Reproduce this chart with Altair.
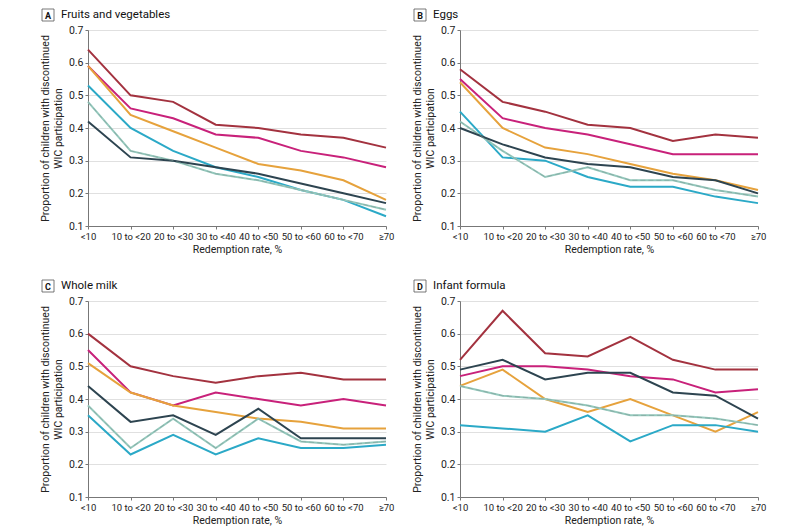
import altair as alt
import pandas as pd

categories = ["<10", "10 to <20", "20 to <30", "30 to <40", "40 to <50", "50 to <60", "60 to <70", "≥70"]
series = ["Child age, 3 y", "Child age, 2 y", "Child age, 1 y", "Infant, FBF", "Infant, PBF", "Infant, FFF"]
colors = ["#a3323f", "#c8217a", "#e6a23c", "#2ba9c7", "#95c9bd", "#2d4450"]

# Panel A: Fruits and vegetables
fv_3y = [0.64, 0.50, 0.48, 0.41, 0.40, 0.38, 0.37, 0.34]
fv_2y = [0.59, 0.46, 0.43, 0.38, 0.37, 0.33, 0.31, 0.28]
fv_1y = [0.59, 0.44, 0.39, 0.34, 0.29, 0.27, 0.24, 0.18]
fv_fbf = [0.53, 0.40, 0.33, 0.28, 0.25, 0.21, 0.18, 0.13]
fv_pbf = [0.48, 0.33, 0.30, 0.26, 0.24, 0.21, 0.18, 0.15]
fv_fff = [0.42, 0.31, 0.30, 0.28, 0.26, 0.23, 0.20, 0.17]

# Panel B: Eggs
eg_3y = [0.58, 0.48, 0.45, 0.41, 0.40, 0.36, 0.38, 0.37]
eg_2y = [0.55, 0.43, 0.40, 0.38, 0.35, 0.32, 0.32, 0.32]
eg_1y = [0.54, 0.40, 0.34, 0.32, 0.29, 0.26, 0.24, 0.21]
eg_fbf = [0.45, 0.31, 0.30, 0.25, 0.22, 0.22, 0.19, 0.17]
eg_pbf = [0.42, 0.33, 0.25, 0.28, 0.24, 0.24, 0.21, 0.19]
eg_fff = [0.40, 0.35, 0.31, 0.29, 0.28, 0.25, 0.24, 0.20]

# Panel C: Whole milk
wm_3y = [0.60, 0.50, 0.47, 0.45, 0.47, 0.48, 0.46, 0.46]
wm_2y = [0.55, 0.42, 0.38, 0.42, 0.40, 0.38, 0.40, 0.38]
wm_1y = [0.51, 0.42, 0.38, 0.36, 0.34, 0.33, 0.31, 0.31]
wm_fbf = [0.35, 0.23, 0.29, 0.23, 0.28, 0.25, 0.25, 0.26]
wm_pbf = [0.38, 0.25, 0.34, 0.25, 0.34, 0.27, 0.26, 0.27]
wm_fff = [0.44, 0.33, 0.35, 0.29, 0.37, 0.28, 0.28, 0.28]

# Panel D: Infant formula
if_3y = [0.52, 0.67, 0.54, 0.53, 0.59, 0.52, 0.49, 0.49]
if_2y = [0.47, 0.50, 0.50, 0.49, 0.47, 0.46, 0.42, 0.43]
if_1y = [0.44, 0.49, 0.40, 0.36, 0.40, 0.35, 0.30, 0.36]
if_fbf = [0.32, 0.31, 0.30, 0.35, 0.27, 0.32, 0.32, 0.30]
if_pbf = [0.44, 0.41, 0.40, 0.38, 0.35, 0.35, 0.34, 0.32]
if_fff = [0.49, 0.52, 0.46, 0.48, 0.48, 0.42, 0.41, 0.34]

y_ticks = [0.1, 0.2, 0.3, 0.4, 0.5, 0.6, 0.7]

panels = [
    ("A", "Fruits and vegetables", [fv_3y, fv_2y, fv_1y, fv_fbf, fv_pbf, fv_fff]),
    ("B", "Eggs", [eg_3y, eg_2y, eg_1y, eg_fbf, eg_pbf, eg_fff]),
    ("C", "Whole milk", [wm_3y, wm_2y, wm_1y, wm_fbf, wm_pbf, wm_fff]),
    ("D", "Infant formula", [if_3y, if_2y, if_1y, if_fbf, if_pbf, if_fff]),
]

FONT = "Roboto"
W, H = 298, 196

X_DEF = alt.X("rate:N", sort=categories,
              scale=alt.Scale(type="point", padding=0),
              axis=alt.Axis(title="Redemption rate, %", labelAngle=0,
                            labelOverlap=False, grid=False, tickSize=3,
                            labelFontSize=9.5, labelPadding=2, titlePadding=4))
Y_DEF = alt.Y("value:Q", scale=alt.Scale(domain=[0.1, 0.7], nice=False, zero=False),
              axis=alt.Axis(title=["Proportion of children with discontinued", "WIC participation"],
                            values=y_ticks, format=".1f", labelOverlap=False,
                            labelFontSize=10.5, tickSize=3, labelPadding=2, titlePadding=5))


def make_panel(letter, title, values, show_legend):
    rows = []
    for s_i, (name, vals) in enumerate(zip(series, values)):
        for cat, v in zip(categories, vals):
            rows.append({"rate": cat, "value": v, "series": name, "order": s_i})
    df = pd.DataFrame(rows)

    if show_legend:
        legend = alt.Legend(
            title=None, orient="none", legendX=W - 95, legendY=-5,
            symbolType="stroke", symbolStrokeWidth=2, symbolSize=700,
            labelFont=FONT, labelFontSize=10.5, labelColor="#222",
            strokeColor="#999", padding=5, rowPadding=2, fillColor="white",
            labelLimit=200, labelOffset=5,
        )
    else:
        legend = None

    lines = alt.Chart(df).mark_line(strokeWidth=2).encode(
        x=X_DEF,
        y=Y_DEF,
        color=alt.Color("series:N", sort=series,
                        scale=alt.Scale(domain=series, range=colors), legend=legend),
        detail="series:N",
        order=alt.Order("order:Q"),
    )
    pbf_overlay = alt.Chart(df).transform_filter(
        alt.datum.series == "Infant, PBF"
    ).mark_line(strokeWidth=1, strokeDash=[5, 3], color="#7e9d97", opacity=0.6).encode(
        x=X_DEF, y=Y_DEF,
    )

    one = pd.DataFrame({"k": [0]})
    box = alt.Chart(one).mark_rect(fill="white", stroke="#555", strokeWidth=0.8).encode(
        x=alt.value(-46), x2=alt.value(-34), y=alt.value(-21), y2=alt.value(-9)
    )
    letter_t = alt.Chart(one).mark_text(font=FONT, fontSize=9, fontWeight="bold",
                                        color="#111", align="center", baseline="middle").encode(
        x=alt.value(-40), y=alt.value(-14.5), text=alt.value(letter)
    )
    title_t = alt.Chart(one).mark_text(font=FONT, fontSize=11.5, color="#111",
                                       align="left", baseline="middle").encode(
        x=alt.value(-27), y=alt.value(-15), text=alt.value(title)
    )
    return alt.layer(lines, pbf_overlay, box, letter_t, title_t).properties(width=W, height=H)


pA = make_panel(*panels[0], show_legend=False)
pB = make_panel(*panels[1], show_legend=True)
pC = make_panel(*panels[2], show_legend=False)
pD = make_panel(*panels[3], show_legend=False)

row1 = alt.hconcat(pA, pB, spacing=18)
row2 = alt.hconcat(pC, pD, spacing=18)
chart = alt.vconcat(row1, row2, spacing=24).resolve_scale(color="independent").properties(
    padding={"left": 32, "top": 0, "right": 5, "bottom": 0},
    background="white",
).configure_view(stroke=None).configure_axis(
    labelFont=FONT, titleFont=FONT, labelFontSize=10, titleFontSize=10.5,
    titleFontWeight="normal", labelColor="#222", titleColor="#222",
    domainColor="#777", tickColor="#777", gridColor="#e0e0e0",
)

chart.save("out.html", embed_options={"renderer": "svg", "actions": False})
